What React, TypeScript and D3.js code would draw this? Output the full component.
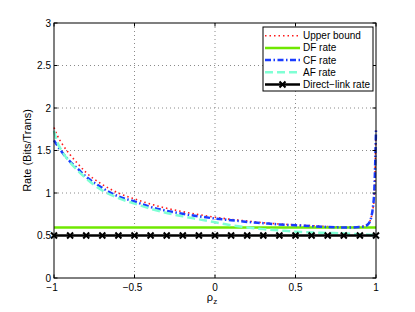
import React from "react";
import * as d3 from "d3";

const rho = [-1, -0.98, -0.95, -0.9, -0.85, -0.8, -0.7, -0.6, -0.5, -0.4, -0.3, -0.2, -0.1, 0, 0.1, 0.2, 0.3, 0.4, 0.5, 0.6, 0.7, 0.8, 0.85, 0.9, 0.93, 0.95, 0.97, 0.98, 0.99, 1.0];
const upperBound = [1.77, 1.68, 1.58, 1.45, 1.34, 1.24, 1.1, 1.0, 0.93, 0.87, 0.82, 0.78, 0.745, 0.715, 0.69, 0.67, 0.65, 0.635, 0.625, 0.615, 0.605, 0.6, 0.6, 0.605, 0.615, 0.64, 0.71, 0.8, 1.0, 1.77];
const cfRate = [1.62, 1.56, 1.48, 1.37, 1.28, 1.19, 1.06, 0.96, 0.9, 0.835, 0.79, 0.755, 0.725, 0.7, 0.68, 0.66, 0.645, 0.63, 0.62, 0.61, 0.6, 0.595, 0.595, 0.6, 0.61, 0.63, 0.71, 0.82, 1.05, 1.74];
const afRho = [-1, -0.98, -0.95, -0.9, -0.85, -0.8, -0.7, -0.6, -0.5, -0.4, -0.3, -0.2, -0.1, 0, 0.1, 0.2, 0.3, 0.4, 0.5, 0.6, 0.7, 0.8, 0.9, 1.0];
const afRate = [1.73, 1.6, 1.49, 1.36, 1.26, 1.17, 1.03, 0.94, 0.875, 0.815, 0.765, 0.725, 0.69, 0.655, 0.62, 0.595, 0.575, 0.56, 0.545, 0.535, 0.53, 0.525, 0.515, 0.505];
const dfRate = 0.595;
const directRate = 0.5;
const directRho = d3.range(21).map((i) => -1 + i * 0.1);
const xTicks = [-1, -0.5, 0, 0.5, 1];
const yTicks = [0, 0.5, 1, 1.5, 2, 2.5, 3];
const legendLabels = ["Upper bound", "DF rate", "CF rate", "AF rate", "Direct\u2212link rate"];

const W = 415, H = 312;
const L = 54, R = 376, T = 23, B = 278;
const font = "'Liberation Sans', Arial, Helvetica, sans-serif";

const styles = [
  { color: "#ff1a1a", width: 1.6, dash: "1.5 3" },
  { color: "#6fe800", width: 2.5, dash: "" },
  { color: "#1a3cff", width: 2.5, dash: "6 2.5 1.5 2.5" },
  { color: "#7fffd4", width: 2.5, dash: "8 4" },
  { color: "#000000", width: 2.5, dash: "" },
];

function XMark({ x, y, s = 3 }: { x: number; y: number; s?: number }) {
  return (
    <path d={`M${x - s},${y - s}L${x + s},${y + s}M${x - s},${y + s}L${x + s},${y - s}`} stroke="#000" strokeWidth={2} fill="none" />
  );
}

export default function App() {
  const x = d3.scaleLinear().domain([-1, 1]).range([L, R]);
  const y = d3.scaleLinear().domain([0, 3]).range([B, T]);
  const line = d3.line<[number, number]>().x((d) => x(d[0])).y((d) => y(d[1])).curve(d3.curveMonotoneX);

  const ubPath = line(rho.map((r, i) => [r, upperBound[i]]))!;
  const cfPath = line(rho.map((r, i) => [r, cfRate[i]]))!;
  const afPath = line(afRho.map((r, i) => [r, afRate[i]]))!;
  const dfPath = line([[-1, dfRate], [1, dfRate]])!;
  const dlPath = line([[-1, directRate], [1, directRate]])!;

  const legX0 = 263, legY0 = 27, legW = 110, legH = 64;
  const rowY = (i: number) => 35.7 + i * 12.2;

  return (
    <svg width={W} height={H} style={{ position: "absolute", left: 0, top: 0, background: "#fff" }} fontFamily={font}>
      <rect x={0} y={0} width={W} height={H} fill="#fff" />
      {/* grid */}
      {xTicks.slice(1, -1).map((t) => (
        <line key={"gx" + t} x1={x(t)} x2={x(t)} y1={T} y2={B} stroke="#8a8a8a" strokeWidth={1} strokeDasharray="1 3" />
      ))}
      {yTicks.slice(1, -1).map((t) => (
        <line key={"gy" + t} x1={L} x2={R} y1={y(t)} y2={y(t)} stroke="#8a8a8a" strokeWidth={1} strokeDasharray="1 3" />
      ))}
      {/* series */}
      <path d={ubPath} fill="none" stroke={styles[0].color} strokeWidth={styles[0].width} strokeDasharray={styles[0].dash} />
      <path d={dfPath} fill="none" stroke={styles[1].color} strokeWidth={styles[1].width} />
      <path d={cfPath} fill="none" stroke={styles[2].color} strokeWidth={styles[2].width} strokeDasharray={styles[2].dash} />
      <path d={afPath} fill="none" stroke={styles[3].color} strokeWidth={styles[3].width} strokeDasharray={styles[3].dash} />
      <path d={dlPath} fill="none" stroke={styles[4].color} strokeWidth={styles[4].width} />
      {directRho.map((r, i) => (
        <XMark key={"m" + i} x={x(r)} y={y(directRate)} />
      ))}
      {/* axes box */}
      <rect x={L} y={T} width={R - L} height={B - T} fill="none" stroke="#000" strokeWidth={1} />
      {/* ticks */}
      {xTicks.map((t) => (
        <g key={"xt" + t}>
          <line x1={x(t)} x2={x(t)} y1={B} y2={B - 3.5} stroke="#000" />
          <line x1={x(t)} x2={x(t)} y1={T} y2={T + 3.5} stroke="#000" />
          <text x={x(t) - (t < 0 ? 2 : 0)} y={B + 13} fontSize={10} textAnchor="middle">
            {t < 0 ? "\u2212" + Math.abs(t) : String(t)}
          </text>
        </g>
      ))}
      {yTicks.map((t) => (
        <g key={"yt" + t}>
          <line x1={L} x2={L + 3.5} y1={y(t)} y2={y(t)} stroke="#000" />
          <line x1={R} x2={R - 3.5} y1={y(t)} y2={y(t)} stroke="#000" />
          <text x={L - 3} y={y(t) + 3.5} fontSize={10} textAnchor="end">
            {String(t)}
          </text>
        </g>
      ))}
      {/* axis labels */}
      <text x={212} y={301} fontSize={11} textAnchor="middle">
        ρ<tspan fontSize={8} dy={3}>z</tspan>
      </text>
      <text transform={`translate(31,${(T + B) / 2}) rotate(-90)`} fontSize={11} textAnchor="middle">
        Rate (Bits/Trans)
      </text>
      {/* legend */}
      <rect x={legX0} y={legY0} width={legW} height={legH} fill="#fff" stroke="#000" strokeWidth={1} />
      {legendLabels.map((lab, i) => (
        <g key={"lg" + i}>
          <line x1={265} x2={300} y1={rowY(i)} y2={rowY(i)} stroke={styles[i].color} strokeWidth={styles[i].width} strokeDasharray={styles[i].dash || undefined} />
          {i === 4 && <XMark x={282.5} y={rowY(i)} />}
          <text x={303} y={rowY(i) + 3.5} fontSize={10}>
            {lab}
          </text>
        </g>
      ))}
    </svg>
  );
}
